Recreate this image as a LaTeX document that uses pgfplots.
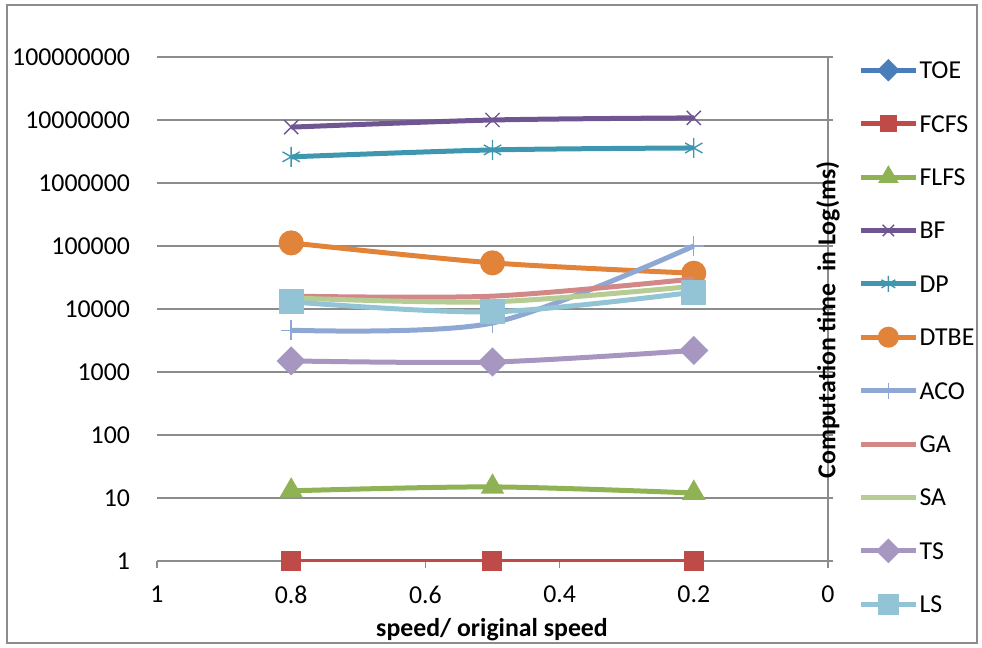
\documentclass[border=0pt]{standalone}
\usepackage{pgfplots}
\pgfplotsset{compat=1.18}
\usepackage{fontspec}
\setmainfont{Carlito}

\definecolor{cTOE}{HTML}{4A7EBB}
\definecolor{cFCFS}{HTML}{BE4B48}
\definecolor{cFLFS}{HTML}{8FB254}
\definecolor{cBF}{HTML}{6F5592}
\definecolor{cDP}{HTML}{3F97AF}
\definecolor{cDTBE}{HTML}{E2833A}
\definecolor{cACO}{HTML}{8EA8D3}
\definecolor{cGA}{HTML}{D38888}
\definecolor{cSA}{HTML}{B5CD94}
\definecolor{cTS}{HTML}{A797C0}
\definecolor{cLS}{HTML}{92C4D5}
\definecolor{frame}{HTML}{8C8C8C}

\newcommand{\chartfont}{\fontsize{12.9}{15}\selectfont}

\begin{document}
\begin{tikzpicture}
\useasboundingbox (0,0) rectangle (491pt,-324pt);
\draw[frame, line width=0.8pt] (3.5pt,-2.5pt) rectangle (488.5pt,-321.5pt);
\begin{axis}[
  name=ax,
  at={(78.5pt,-280.5pt)}, anchor=south west,
  scale only axis, width=335.5pt, height=252pt,
  xmin=0, xmax=1, x dir=reverse,
  ymode=log, ymin=1, ymax=1e8,
  clip mode=individual,
  xtick={0,0.2,0.4,0.6,0.8,1},
  xticklabels={0,0.2,0.4,0.6,0.8,1},
  ytick={1,10,100,1000,10000,100000,1000000,10000000,100000000},
  yticklabels={1,10,100,1000,10000,100000,1000000,10000000,100000000},
  axis line style={draw=none},
  ymajorgrids, grid style={frame, line width=0.75pt},
  xtick pos=left, xtick align=outside,
  major tick length=3.5pt,
  xtick style={frame, line width=0.75pt},
  ytick style={draw=none},
  yticklabel pos=left,
  tick label style={font=\chartfont},
  yticklabel style={xshift=-10pt},
  xticklabel style={yshift=-5.5pt},
  /pgf/number format/assume math mode=true,
  every axis plot/.append style={line width=2.5pt, smooth},
  legend style={
    at={(axis description cs:1.0447,0.996)}, anchor=north west,
    draw=none, fill=none, font=\chartfont,
    row sep=0pt, inner sep=0pt,
    nodes={inner sep=0.6pt, text height=9pt, text depth=16.5pt, anchor=base west},
  },
  legend cell align=left,
  legend image code/.code={
    \draw[mark repeat=2, mark phase=2] plot coordinates {(0pt,4.2pt) (13.75pt,4.2pt) (27.5pt,4.2pt)};
  },
  legend image post style={every mark/.append style={scale=0.8}},
]
% TOE has no plotted values
\addlegendimage{cTOE, line width=2.5pt, mark=square*, mark size=3.4pt, mark options={rotate=45, solid}}
\addlegendentry{TOE}

\addplot[cFCFS, mark=square*, mark size=3.75pt] coordinates {(0.8,1) (0.5,1) (0.2,1)};
\addlegendentry{FCFS}
\addplot[cFLFS, mark=triangle*, mark size=4.3pt] coordinates {(0.8,13) (0.5,15) (0.2,12)};
\addlegendentry{FLFS}
\addplot[cBF, mark=x, mark size=5pt, mark options={line width=0.7pt}] coordinates {(0.8,7700000) (0.5,10000000) (0.2,10800000)};
\addlegendentry{BF}
\addplot[cDP, mark=asterisk, mark size=5pt, mark options={line width=0.7pt}] coordinates {(0.8,2600000) (0.5,3350000) (0.2,3600000)};
\addlegendentry{DP}
\addplot[cDTBE, mark=*, mark size=5pt] coordinates {(0.8,112000) (0.5,54000) (0.2,37000)};
\addlegendentry{DTBE}
\addplot[cACO, mark=+, mark size=5pt, mark options={line width=0.7pt}] coordinates {(0.8,4600) (0.5,6000) (0.2,100000)};
\addlegendentry{ACO}
\addplot[cGA] coordinates {(0.8,16000) (0.5,16000) (0.2,30000)};
\addlegendentry{GA}
\addplot[cSA] coordinates {(0.8,15000) (0.5,13000) (0.2,23000)};
\addlegendentry{SA}
\addplot[cTS, mark=square*, mark size=3.9pt, mark options={rotate=45}] coordinates {(0.8,1500) (0.5,1440) (0.2,2200)};
\addlegendentry{TS}
\addplot[cLS, mark=square*, mark size=5pt] coordinates {(0.8,13000) (0.5,9000) (0.2,18500)};
\addlegendentry{LS}
\end{axis}
% vertical axis line at x = 0 with its crossing ticks
\draw[frame, line width=0.75pt] (414pt,-284pt) -- (414pt,-28.5pt);
\foreach \k in {0,...,8} {
  \draw[frame, line width=0.75pt] (414pt,{-280.5pt+\k*31.5pt}) -- ++(2.5pt,0);
}
\node[rotate=90, font=\chartfont\bfseries] at (414pt,-160pt) {Computation time~ in Log(ms)};
\node[font=\chartfont\bfseries] at (246pt,-315pt) {speed/ original speed};
\end{tikzpicture}
\end{document}
